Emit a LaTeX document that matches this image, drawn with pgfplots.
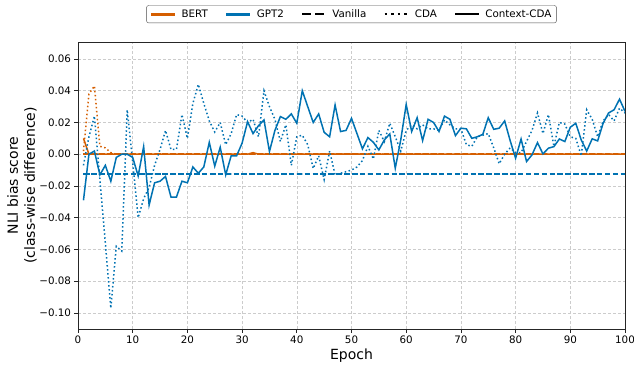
\documentclass[border=0pt]{standalone}
\usepackage{fontspec}
\setmainfont{DejaVu Sans}
\usepackage{pgfplots}
\usepackage{pgfplotstable}
\pgfplotsset{compat=1.18}
\definecolor{bert}{HTML}{D55E00}
\definecolor{gpt}{HTML}{0072B2}
\pgfplotstableread{
e bvan bcda bctx gvan gcda gctx
1 0 0.002 0.010 -0.0125 -0.007 -0.029
2 0 0.038 0.000 -0.0125 0.011 0.000
3 0 0.043 0 -0.0125 0.024 0.002
4 0 0.005 0 -0.0125 -0.016 -0.013
5 0 0.004 0 -0.0125 -0.056 -0.007
6 0 0.001 0 -0.0125 -0.097 -0.017
7 0 0 0 -0.0125 -0.058 -0.002
8 0 0 0 -0.0125 -0.061 0.000
9 0 0 0 -0.0125 0.028 0.000
10 0 0 0 -0.0125 -0.005 -0.002
11 0 0 0 -0.0125 -0.040 -0.0137
12 0 0 0 -0.0125 -0.028 0.0048
13 0 0 0 -0.0125 -0.021 -0.032
14 0 0 0 -0.0125 -0.007 -0.018
15 0 0 0 -0.0125 0.003 -0.017
16 0 0 0 -0.0125 0.015 -0.014
17 0 0 0 -0.0125 0.003 -0.027
18 0 0 0 -0.0125 0.003 -0.027
19 0 0 0 -0.0125 0.025 -0.017
20 0 0 0 -0.0125 0.010 -0.018
21 0 0 0 -0.0125 0.032 -0.008
22 0 0 0 -0.0125 0.044 -0.012
23 0 0 0 -0.0125 0.032 -0.008
24 0 0 0 -0.0125 0.021 0.0075
25 0 0 0 -0.0125 0.014 -0.0075
26 0 0 0 -0.0125 0.020 0.0044
27 0 0 0 -0.0125 0.006 -0.013
28 0 0 0 -0.0125 0.013 -0.001
29 0 0 0 -0.0125 0.025 -0.001
30 0 0 0 -0.0125 0.024 0.007
31 0 0 0 -0.0125 0.020 0.0205
32 0 0 0.001 -0.0125 0.022 0.013
33 0 0 0 -0.0125 0.011 0.018
34 0 0 0 -0.0125 0.040 0.0216
35 0 0 0 -0.0125 0.030 0.0017
36 0 0 0 -0.0125 0.022 0.015
37 0 0 0 -0.0125 0.008 0.0237
38 0 0 0 -0.0125 0.0185 0.022
39 0 0 0 -0.0125 -0.007 0.0254
40 0 0 0 -0.0125 0.011 0.0195
41 0 0 0 -0.0125 0.012 0.040
42 0 0 0 -0.0125 0.006 0.030
43 0 0 0 -0.0125 -0.009 0.020
44 0 0 0 -0.0125 -0.001 0.0254
45 0 0 0 -0.0125 -0.016 0.0138
46 0 0 0 -0.0125 0.002 0.011
47 0 0 0 -0.0125 -0.013 0.031
48 0 0 0 -0.0125 -0.012 0.0143
49 0 0 0 -0.0125 -0.011 0.015
50 0 0 0 -0.0125 -0.010 0.0226
51 0 0 0 -0.0125 -0.008 0.013
52 0 0 0 -0.0125 -0.004 0.0034
53 0 0 0 -0.0125 0.005 0.0105
54 0 0 0 -0.0125 -0.003 0.0075
55 0 0 0 -0.0125 0.015 0.0027
56 0 0 0 -0.0125 0.008 0.009
57 0 0 0 -0.0125 0.0195 0.0128
58 0 0 0 -0.0125 0.011 -0.0088
59 0 0 0 -0.0125 0.002 0.009
60 0 0 0 -0.0125 0.015 0.0314
61 0 0 0 -0.0125 0.0185 0.0143
62 0 0 0 -0.0125 0.016 0.023
63 0 0 0 -0.0125 0.0185 0.0086
64 0 0 0 -0.0125 0.016 0.022
65 0 0 0 -0.0125 0.016 0.020
66 0 0 0 -0.0125 0.015 0.0143
67 0 0 0 -0.0125 0.0216 0.024
68 0 0 0 -0.0125 0.0185 0.022
69 0 0 0 -0.0125 0.016 0.0117
70 0 0 0 -0.0125 0.016 0.0164
71 0 0 0 -0.0125 0.006 0.016
72 0 0 0 -0.0125 0.005 0.010
73 0 0 0 -0.0125 0.011 0.011
74 0 0 0 -0.0125 0.012 0.0125
75 0 0 0 -0.0125 0.013 0.023
76 0 0 0 -0.0125 0.004 0.0157
77 0 0 0 -0.0125 -0.006 0.0164
78 0 0 0 -0.0125 0.000 0.021
79 0 0 0 -0.0125 0.004 0.0086
80 0 0 0 -0.0125 0.001 -0.0025
81 0 0 0 -0.0125 0.001 0.0096
82 0 0 0 -0.0125 0.008 -0.0046
83 0 0 0 -0.0125 0.015 -0.0004
84 0 0 0 -0.0125 0.026 0.0073
85 0 0 0 -0.0125 0.013 0.0002
86 0 0 0 -0.0125 0.025 0.0038
87 0 0 0 -0.0125 0.005 0.0048
88 0 0 0 -0.0125 0.020 0.0096
89 0 0 0 -0.0125 0.019 0.008
90 0 0 0 -0.0125 0.011 0.017
91 0 0 0 -0.0125 0.010 0.0195
92 0 0 0 -0.0125 -0.001 0.009
93 0 0 0 -0.0125 0.028 0.002
94 0 0 0 -0.0125 0.022 0.0097
95 0 0 0 -0.0125 0.011 0.0084
96 0 0 0 -0.0125 0.021 0.0195
97 0 0 0 -0.0125 0.025 0.026
98 0 0 0 -0.0125 0.021 0.028
99 0 0 0 -0.0125 0.029 0.0347
100 0 0 0 -0.0125 0.026 0.027
}\datatable
\begin{document}
\begin{tikzpicture}
\begin{axis}[
  width=547pt, height=287pt, scale only axis,
  xmin=0, xmax=100, ymin=-0.1101, ymax=0.0707,
  xtick={0,10,...,100},
  ytick={-0.10,-0.08,-0.06,-0.04,-0.02,0,0.02,0.04,0.06},
  yticklabels={−0.10,−0.08,−0.06,−0.04,−0.02,0.00,0.02,0.04,0.06},
  /pgf/number format/assume math mode=true,
  tick label style={font=\fontsize{10.3}{12}\selectfont},
  tick align=outside, tick pos=left, major tick length=3.5pt,
  grid=major, grid style={dash pattern=on 3pt off 2pt, black!20, line width=0.6pt},
  axis line style={line width=0.8pt, black!85},
  every tick/.style={black!85, line width=0.8pt},
  xlabel={Epoch}, ylabel={NLI bias score\\(class-wise difference)},
  label style={font=\fontsize{14}{17}\selectfont},
  xlabel style={at={(axis description cs:0.5,-0.094)}, anchor=center},
  ylabel style={at={(axis description cs:-0.1024,0.5)}, anchor=center, align=center},
  legend columns=5,
  legend style={at={(axis description cs:0.5,1.066)}, anchor=south,
    font=\fontsize{10.3}{12}\selectfont, draw=black!70, rounded corners=2pt,
    inner xsep=3pt, inner ysep=2pt,
    /tikz/every odd column/.append style={column sep=3pt},
    /tikz/every even column/.append style={column sep=15pt}},
  legend image code/.code={\draw[#1] (0pt,0pt) -- (24pt,0pt);},
]
\addlegendimage{bert, line width=3pt}\addlegendentry{BERT}
\addlegendimage{gpt, line width=3pt}\addlegendentry{GPT2}
\addlegendimage{black, line width=2.5pt, dash pattern=on 9pt off 4pt}\addlegendentry{Vanilla}
\addlegendimage{black, line width=2.5pt, dash pattern=on 2.5pt off 4.1pt}\addlegendentry{CDA}
\addlegendimage{black, line width=2.5pt}\addlegendentry{Context-CDA}
\addplot[forget plot, bert, line width=1.5pt, dash pattern=on 5.5pt off 2.4pt] table[x=e, y=bvan] {\datatable};
\addplot[forget plot, bert, line width=1.5pt, dash pattern=on 1.5pt off 2.5pt] table[x=e, y=bcda] {\datatable};
\addplot[forget plot, bert, line width=1.5pt] table[x=e, y=bctx] {\datatable};
\addplot[forget plot, gpt, line width=1.5pt, dash pattern=on 5.5pt off 2.4pt] table[x=e, y=gvan] {\datatable};
\addplot[forget plot, gpt, line width=1.5pt, dash pattern=on 1.5pt off 2.5pt] table[x=e, y=gcda] {\datatable};
\addplot[forget plot, gpt, line width=1.5pt] table[x=e, y=gctx] {\datatable};
\end{axis}
\pgfresetboundingbox
\path[use as bounding box] ([xshift=-78pt,yshift=-38pt]current axis.south west) rectangle ++(634pt,367pt);
\end{tikzpicture}
\end{document}
